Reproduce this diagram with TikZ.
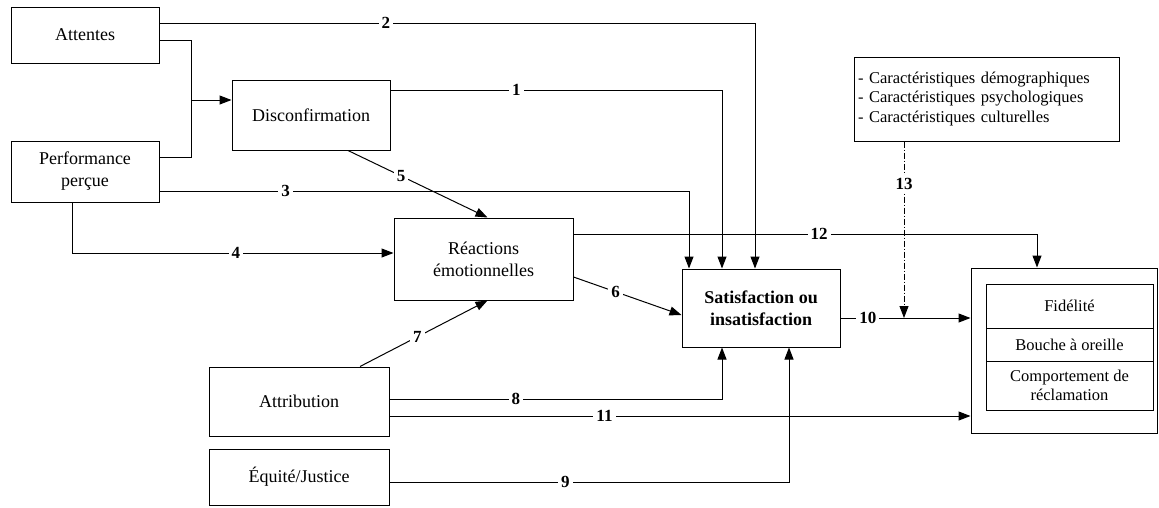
\documentclass[tikz,border=0pt]{standalone}
\usepackage{fontspec}
\setmainfont{Liberation Serif}
\usetikzlibrary{arrows.meta,positioning,calc}
\newcommand\txt[0]{\fontsize{18}{22}\selectfont}
\newcommand\petit[0]{\fontsize{16.5}{19.5}\selectfont}
\tikzset{
  boite/.style={draw, line width=1pt, align=center, inner sep=2pt, font=\txt},
  num/.style={fill=white, inner sep=3pt, font=\fontsize{17}{20}\selectfont\bfseries},
  trait/.style={line width=1pt},
  fleche/.style={line width=1pt, -{Triangle[length=12pt,width=9pt]}},
}
\begin{document}
\begin{tikzpicture}[x=1pt,y=-1pt]
\useasboundingbox (0,0) rectangle (1159,507);
\node[boite, minimum width=148, minimum height=56] (att) at (85,35) {Attentes};
\node[boite, minimum width=148, minimum height=61] (perf) at (85,171.5) {Performance\\perçue};
\node[boite, minimum width=158, minimum height=70] (disc) at (311,115) {Disconfirmation};
\node[boite, minimum width=179, minimum height=82] (emo) at (483.5,259) {Réactions\\émotionnelles};
\node[boite, minimum width=158, minimum height=78, font=\txt\bfseries] (sat) at (761,308) {Satisfaction ou\\insatisfaction};
\node[boite, minimum width=180, minimum height=69] (attr) at (299,401.5) {Attribution};
\node[boite, minimum width=180, minimum height=56] (equi) at (299,477) {Équité/Justice};
\node[boite, font=\petit, minimum width=265, minimum height=84, text width=257, align=left] (carac) at (986.5,99)
  {- Caractéristiques démographiques\\- Caractéristiques psychologiques\\- Caractéristiques culturelles\\[2pt]};
\node[boite, minimum width=186, minimum height=165] (out) at (1064,350.5) {};
\node[boite, font=\petit, outer sep=0pt, minimum width=167, minimum height=44] (fid) at (1069.5,306) {Fidélité};
\node[boite, font=\petit, outer sep=0pt, minimum width=167, minimum height=33, below=0pt of fid] (bouche) {Bouche à oreille};
\node[boite, font=\petit, outer sep=0pt, minimum width=167, minimum height=49, below=0pt of bouche] (recl) {Comportement de\\réclamation};

\coordinate (jn) at ([xshift=-40,yshift=15]disc.west);
\coordinate (j10) at ([yshift=-10]sat.east);
\coordinate (m13) at ([xshift=-82.5]carac.south);

\draw[trait] ([yshift=-5]att.east) -| (jn) |- ([yshift=14.5]perf.east);
\draw[fleche] (jn) -- (jn -| disc.west);
\draw[fleche] ([yshift=25]disc.east) -| node[num, pos=0.19] {1} ([xshift=-39]sat.north);
\draw[fleche] ([yshift=12]att.east) -| node[num, pos=0.19] {2} ([xshift=-6]sat.north);
\draw[fleche] ([yshift=-19.5]perf.east) -| node[num, pos=0.119] {3} ([xshift=-72]sat.north);
\draw[fleche] ([xshift=-13]perf.south) |- node[num, pos=0.755] {4} ([yshift=6]emo.west);
\draw[fleche] ([xshift=37]disc.south) -- node[num, pos=0.38] {5} ([xshift=4]emo.north);
\draw[fleche] ([yshift=-18]emo.east) -- node[num, pos=0.39] {6} ([yshift=-7]sat.west);
\draw[fleche] ([xshift=61]attr.north) -- node[num, pos=0.45] {7} ([xshift=4]emo.south);
\draw[fleche] ([yshift=2.5]attr.east) -| node[num, pos=0.19] {8} ([xshift=-39]sat.south);
\draw[fleche] ([yshift=-5]equi.east) -| node[num, pos=0.22] {9} ([xshift=28]sat.south);
\draw[fleche] (j10) -- node[num, pos=0.21] {10} ([yshift=32.5]out.west);
\draw[fleche] ([yshift=-14.5]attr.east) -- node[num, pos=0.37] {11} ([yshift=-65.5]out.west);
\draw[fleche] ([yshift=25]emo.east) -| node[num, pos=0.265] {12} ([xshift=-27]out.north);
\draw[fleche, dash pattern=on 6pt off 2pt on 1pt off 2pt] (m13) -- node[num, pos=0.24] {13} (m13 |- j10);
\end{tikzpicture}
\end{document}
